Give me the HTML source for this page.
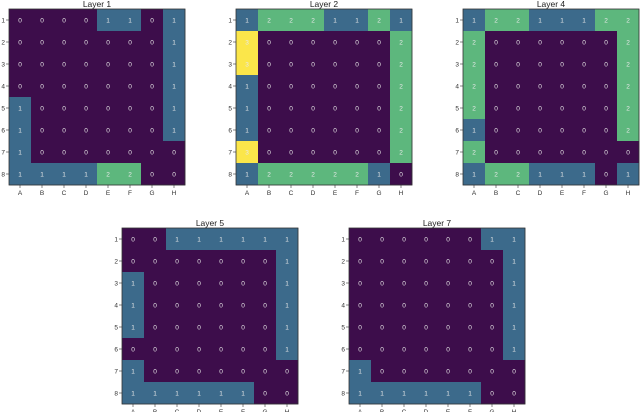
<!DOCTYPE html>
<html><head><meta charset="utf-8">
<style>
html,body{margin:0;padding:0;background:#fff;width:640px;height:412px;overflow:hidden}
svg{display:block}
text{font-family:"Liberation Sans","DejaVu Sans",sans-serif}
</style></head>
<body>
<svg id="fig" width="640" height="412" viewBox="0 0 640 412" xmlns="http://www.w3.org/2000/svg"></svg>
<script>
const cols = ["A","B","C","D","E","F","G","H"];
const rows = ["1","2","3","4","5","6","7","8"];
const titles = ["Layer 1","Layer 2","Layer 4","Layer 5","Layer 7"];
const layer1 = [
[0,0,0,0,1,1,0,1],[0,0,0,0,0,0,0,1],[0,0,0,0,0,0,0,1],[0,0,0,0,0,0,0,1],
[1,0,0,0,0,0,0,1],[1,0,0,0,0,0,0,1],[1,0,0,0,0,0,0,0],[1,1,1,1,2,2,0,0]];
const layer2 = [
[1,2,2,2,1,1,2,1],[3,0,0,0,0,0,0,2],[3,0,0,0,0,0,0,2],[1,0,0,0,0,0,0,2],
[1,0,0,0,0,0,0,2],[1,0,0,0,0,0,0,2],[3,0,0,0,0,0,0,2],[1,2,2,2,2,2,1,0]];
const layer4 = [
[1,2,2,1,1,1,2,2],[2,0,0,0,0,0,0,2],[2,0,0,0,0,0,0,2],[2,0,0,0,0,0,0,2],
[2,0,0,0,0,0,0,2],[1,0,0,0,0,0,0,2],[2,0,0,0,0,0,0,0],[1,2,2,1,1,1,0,1]];
const layer5 = [
[0,0,1,1,1,1,1,1],[0,0,0,0,0,0,0,1],[1,0,0,0,0,0,0,1],[1,0,0,0,0,0,0,1],
[1,0,0,0,0,0,0,1],[0,0,0,0,0,0,0,1],[1,0,0,0,0,0,0,0],[1,1,1,1,1,1,0,0]];
const layer7 = [
[0,0,0,0,0,0,1,1],[0,0,0,0,0,0,0,1],[0,0,0,0,0,0,0,1],[0,0,0,0,0,0,0,1],
[0,0,0,0,0,0,0,1],[0,0,0,0,0,0,0,1],[1,0,0,0,0,0,0,0],[1,1,1,1,1,1,0,0]];
const layers = [layer1,layer2,layer4,layer5,layer7];
const palette = ["#3d0d4b","#3c6a8b","#5db77d","#fbe64a"];
const panels = [[9,9],[236,9],[463,9],[122,228],[349,228]];
const SIZE = 176;
const NS = "http://www.w3.org/2000/svg";
const svg = document.getElementById("fig");
function mk(tag, attrs, parent){
  const e = document.createElementNS(NS, tag);
  for (const k in attrs) e.setAttribute(k, attrs[k]);
  parent.appendChild(e); return e;
}
layers.forEach((data, li) => {
  const [x0,y0] = panels[li];
  const cw = SIZE/cols.length, ch = SIZE/rows.length;
  const xs = c => x0 + c*cw;
  const ys = r => y0 + r*ch;
  const g = mk("g", {}, svg);
  
  
  const t = mk("text", {x: x0+SIZE/2, y: y0-2, "text-anchor":"middle", "font-size":"8.5", fill:"#222"}, g);
  t.textContent = titles[li];
  
  
  data.forEach((row, r) => row.forEach((v, c) => {
    const rc = mk("rect", {x: xs(c), y: ys(r), width: cw+0.3, height: ch+0.3, fill: palette[v]}, g);
    
    
    const tx = mk("text", {x: xs(c)+cw/2, y: ys(r)+ch/2+2.3, "text-anchor":"middle", "font-size":"6.5", fill:"#e8e8e8"}, g);
    tx.textContent = v;
    
    
  }));
  const fr = mk("rect", {x:x0, y:y0, width:SIZE, height:SIZE, fill:"none", stroke:"#333", "stroke-width":"0.8"}, g);
  
  
  rows.forEach((lab, r) => {
    const yy = ys(r)+ch/2;
    mk("line", {x1:x0-3, x2:x0, y1:yy, y2:yy, stroke:"#333", "stroke-width":"0.6"}, g);
    const tl = mk("text", {x:x0-4, y:yy+2.3, "text-anchor":"end", "font-size":"6.5", fill:"#333"}, g);
    tl.textContent = lab;
    
    
  });
  cols.forEach((lab, c) => {
    const xx = xs(c)+cw/2;
    mk("line", {x1:xx, x2:xx, y1:y0+SIZE, y2:y0+SIZE+3, stroke:"#333", "stroke-width":"0.6"}, g);
    const tl = mk("text", {x:xx, y:y0+SIZE+10, "text-anchor":"middle", "font-size":"6.5", fill:"#333"}, g);
    tl.textContent = lab;
    
    
  });
});
</script>
</body></html>
